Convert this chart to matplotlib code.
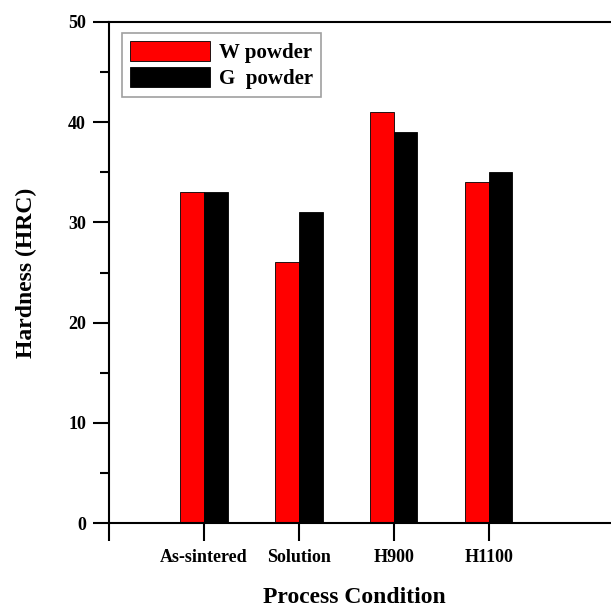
import matplotlib.pyplot as plt
import numpy as np

# data
conditions = ['As-sintered', 'Solution', 'H900', 'H1100']
w_powder = [33, 26, 41, 34]
g_powder = [33, 31, 39, 35]

plt.rcParams['font.family'] = ['Liberation Serif', 'DejaVu Serif']
plt.rcParams['font.weight'] = 'bold'

fig = plt.figure(figsize=(6.11, 6.08), dpi=100)
ax = fig.add_axes([109 / 611, 85 / 608, 503 / 611, 501 / 608])

x = np.arange(1, len(conditions) + 1)
w = 0.25
ax.bar(x - w / 2, w_powder, w, color='#ff0000', edgecolor='black', linewidth=0.6, label='W powder')
ax.bar(x + w / 2, g_powder, w, color='black', edgecolor='black', linewidth=0.6, label='G  powder')

ax.set_ylim(0, 50)
ax.set_xlim(0, 5.3)
ax.set_yticks([0, 10, 20, 30, 40, 50])
ax.set_yticks(np.arange(5, 50, 10), minor=True)
ax.set_xticks([0, 1, 2, 3, 4])
ax.set_xticklabels([''] + conditions)

for s in ['left', 'bottom', 'top']:
    ax.spines[s].set_linewidth(1.5)
ax.spines['right'].set_visible(False)

ax.tick_params(axis='y', which='major', length=11.5, width=1.5, labelsize=13, pad=5)
ax.tick_params(axis='y', which='minor', length=6.5, width=1.5)
ax.tick_params(axis='x', which='major', length=13, width=1.5, labelsize=13, pad=6)
for lbl in ax.get_xticklabels() + ax.get_yticklabels():
    lbl.set_fontweight('bold')

ax.set_xlabel('Process Condition', fontsize=17, fontweight='bold')
ax.xaxis.set_label_coords(0.487, -0.128)
ax.set_ylabel('Hardness (HRC)', fontsize=17, fontweight='bold')
ax.yaxis.set_label_coords(-0.143, 0.5)

leg = ax.legend(loc='upper left', bbox_to_anchor=(0.026, 0.978), fontsize=15,
                frameon=True, fancybox=False, edgecolor='#888888',
                handlelength=3.85, handleheight=1.1, borderpad=0.38,
                labelspacing=0.2, handletextpad=0.4, borderaxespad=0)
leg.get_frame().set_linewidth(1.2)
for t in leg.get_texts():
    t.set_fontweight('bold')

fig.savefig('out.png', dpi=100)
